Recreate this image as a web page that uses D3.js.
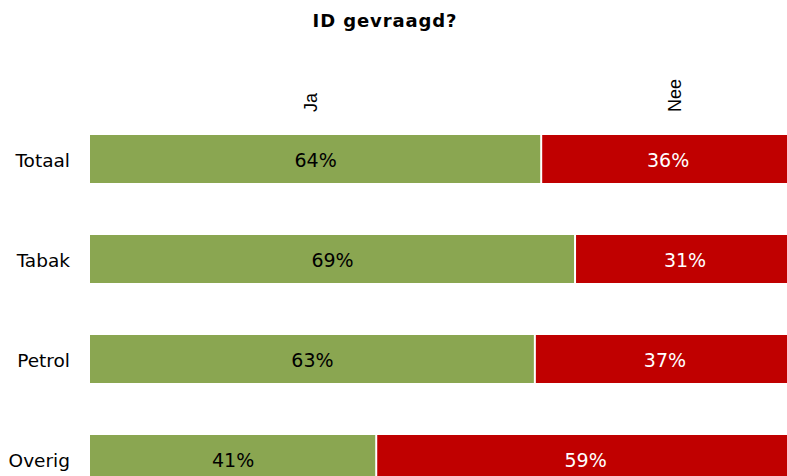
<!DOCTYPE html>
<html><head><meta charset="utf-8">
<script src="https://cdn.jsdelivr.net/npm/d3@7"></script>
<style>body{margin:0;background:#fff;overflow:hidden}</style>
</head><body>
<svg id="c" width="787" height="476"></svg>
<script>
const title = "ID gevraagd?";
const categories = ["Totaal", "Tabak", "Petrol", "Overig"];
const seriesNames = ["Ja", "Nee"];
const ja = [64.0, 68.8, 63.1, 40.6];
const nee = [36.0, 31.2, 36.9, 59.4];
const colors = ["#8aa651", "#c00000"];
const textColors = ["#000000", "#ffffff"];

const svg = d3.select("#c");
const x = d3.scaleLinear().domain([0, 100]).range([90, 795]);
const y = d3.scaleBand().domain(categories).range([135, 483]).paddingInner(0.52).paddingOuter(0);

svg.append("text").attr("x", 385).attr("y", 27).attr("text-anchor", "middle")
  .attr("font-family", "DejaVu Sans, Verdana, sans-serif").attr("font-weight", "bold")
  .attr("font-size", 18).attr("letter-spacing", 0.9).text(title);

const data = categories.map((c, i) => ({cat: c, vals: [ja[i], nee[i]]}));
const stack = data.map(d => {
  let acc = 0;
  return d.vals.map((v, j) => { const s = {cat: d.cat, j, x0: acc, x1: acc + v, v}; acc += v; return s; });
}).flat();

svg.selectAll("rect.bar").data(stack).enter().append("rect")
  .attr("x", d => x(d.x0) + (d.j > 0 ? 1 : 0)).attr("y", d => y(d.cat))
  .attr("width", d => x(d.x1) - x(d.x0) - 1).attr("height", y.bandwidth())
  .attr("fill", d => colors[d.j]);

svg.selectAll("text.val").data(stack).enter().append("text")
  .attr("x", d => (x(d.x0) + x(d.x1)) / 2).attr("y", d => y(d.cat) + y.bandwidth() / 2 + 8)
  .attr("text-anchor", "middle").attr("font-family", "DejaVu Sans, Verdana, sans-serif")
  .attr("font-size", 19).attr("fill", d => textColors[d.j])
  .text(d => Math.round(d.v) + "%");

// Category axis labels
const yAxis = d3.axisLeft(y).tickSize(0).tickPadding(0);
const ga = svg.append("g").attr("transform", "translate(70,0)").call(yAxis);
ga.select(".domain").remove();
ga.selectAll("text").attr("font-family", "DejaVu Sans, Verdana, sans-serif").attr("font-size", 18.5)
  .attr("fill", "#000").attr("dy", "0.45em");

// Column headers (rotated)
const hx = [x(ja[0] / 2) - 5, x(ja[0] + nee[0] / 2) + 7];
seriesNames.forEach((s, i) => {
  svg.append("text").attr("transform", `translate(${hx[i] + 6},112) rotate(-90)`)
    .attr("font-family", "Liberation Sans, Arial, sans-serif").attr("font-size", 18).text(s);
});
</script>
</body></html>
